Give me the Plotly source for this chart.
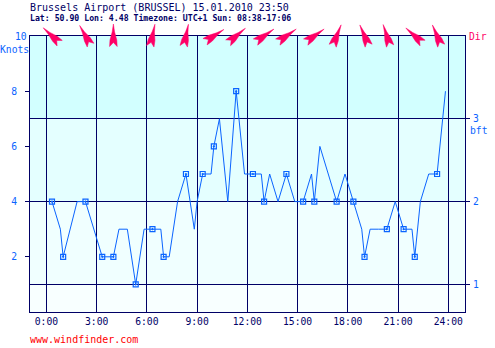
import math
import plotly.graph_objects as go

# ---------------- data ----------------
times = ["0:20", "0:50", "1:00", "1:50", "2:20", "2:50", "3:20", "4:00", "4:20", "4:50",
         "5:20", "5:50", "6:20", "6:50", "7:00", "7:20", "7:50", "8:20", "8:50", "9:00",
         "9:20", "9:50", "10:00", "10:20", "10:50", "11:20", "11:50", "12:20", "12:50", "13:00",
         "13:20", "13:50", "14:20", "14:50", "15:20", "15:50", "16:00", "16:20", "16:50", "17:20",
         "17:50", "18:20", "18:50", "19:00", "19:20", "19:50", "20:20", "20:50", "21:20", "21:50",
         "22:00", "22:20", "22:50", "23:20", "23:50"]
speeds_kn = [4, 3, 2, 4, 4, 3, 2, 2, 3, 3,
             1, 3, 3, 3, 2, 2, 4, 5, 3, 4,
             5, 5, 6, 7, 4, 8, 5, 5, 5, 4,
             5, 4, 5, 4, 4, 5, 4, 6, 5, 4,
             5, 4, 3, 2, 3, 3, 3, 4, 3, 3,
             2, 4, 5, 5, 8]
observed = [1, 0, 1, 0, 1, 0, 1, 1, 0, 0,
            1, 0, 1, 0, 1, 0, 0, 1, 0, 0,
            1, 0, 1, 0, 0, 1, 0, 1, 0, 1,
            0, 0, 1, 0, 1, 0, 1, 0, 0, 1,
            0, 1, 0, 1, 0, 0, 1, 0, 1, 0,
            1, 0, 0, 1, 0]

arrow_times = ["0:20", "2:20", "4:00", "6:20", "8:20", "10:00", "11:20", "13:00",
               "14:20", "16:00", "17:20", "19:00", "20:20", "22:00", "23:20"]
arrow_heading = [313, 331, 0, 12, 12, 57, 50, 55, 55, 55, 22, 337, 342, 312, 337]

x_ticks = [0, 3, 6, 9, 12, 15, 18, 21, 24]
x_tick_labels = ["0:00", "3:00", "6:00", "9:00", "12:00", "15:00", "18:00", "21:00", "24:00"]
knot_ticks = [2, 4, 6, 8]
bft_ticks_kn = [1, 4, 7]
bft_labels = ["1", "2", "3"]

title = "Brussels Airport (BRUSSEL) 15.01.2010 23:50"
subtitle = "Lat: 50.90 Lon: 4.48 Timezone: UTC+1 Sun: 08:38-17:06"

# ---------------- styles ----------------
NAVY = "#000066"
BLUE = "#0a64ff"
PINK = "#ff0066"
FONT = "DejaVu Sans Mono"


def to_hours(s):
    h, m = s.split(":")
    return int(h) + int(m) / 60.0


x_hours = [to_hours(t) for t in times]

fig = go.Figure()

fig.add_trace(go.Scatter(
    x=x_hours, y=speeds_kn, mode="lines",
    line=dict(color=BLUE, width=1), showlegend=False, hoverinfo="skip"))
fig.add_trace(go.Scatter(
    x=[x for x, o in zip(x_hours, observed) if o],
    y=[v for v, o in zip(speeds_kn, observed) if o],
    mode="markers", yaxis="y2",
    marker=dict(symbol="square-open-dot", size=5, color=BLUE, line=dict(width=1.2, color=BLUE)),
    showlegend=False, hoverinfo="skip"))

shapes = []
# background bands (bft zones)
bands = [(0, 1, "#f8ffff"), (1, 4, "#f0ffff"), (4, 7, "#e4ffff"), (7, 10, "#d2ffff")]
for y0, y1, c in bands:
    shapes.append(dict(type="rect", xref="paper", yref="y", x0=0, x1=1, y0=y0, y1=y1,
                       fillcolor=c, line=dict(width=0), layer="below"))

# wind direction darts
dart = [(0, 12), (1.2, 4), (3.4, -4), (3.8, -10.5), (0, -6.5), (-3.8, -10.5), (-3.4, -4), (-1.2, 4)]
for t, hd in zip(arrow_times, arrow_heading):
    a = math.radians(hd)
    pts = []
    for px, py in dart:
        rx = px * math.cos(a) + py * math.sin(a)
        ry = -px * math.sin(a) + py * math.cos(a)
        pts.append((rx, ry))
    path = "M" + " L".join(f"{x:.2f},{y:.2f}" for x, y in pts) + " Z"
    shapes.append(dict(type="path", xref="x", yref="paper", xsizemode="pixel", ysizemode="pixel",
                       xanchor=to_hours(t), yanchor=1, path=path,
                       fillcolor=PINK, line=dict(color=PINK, width=0.5), layer="above"))

annotations = [
    dict(text=title, x=0, y=1.104, xanchor="left", yanchor="middle", xshift=-1,
         font=dict(family=FONT, size=10, color=NAVY)),
    dict(text="<b>" + subtitle + "</b>", x=0, y=1.066, xanchor="left", yanchor="middle", xshift=-1,
         font=dict(family=FONT, size=8.2, color=NAVY)),
    dict(text="10", x=0, y=1.0, xanchor="right", yanchor="middle", xshift=-2,
         font=dict(family=FONT, size=9.7, color=BLUE)),
    dict(text="Knots", x=0, y=0.951, xanchor="right", yanchor="middle", xshift=0,
         font=dict(family=FONT, size=9.7, color=BLUE)),
    dict(text="Dir", x=1, y=0.998, xanchor="left", yanchor="middle", xshift=3,
         font=dict(family=FONT, size=9.7, color=PINK)),
    dict(text="bft", x=1, y=0.658, xanchor="left", yanchor="middle", xshift=4,
         font=dict(family=FONT, size=9.7, color=BLUE)),
    dict(text="www.windfinder.com", x=0, y=-0.101, xanchor="left", yanchor="middle", xshift=-1,
         font=dict(family=FONT, size=10, color="#ff0000")),
]
for an in annotations:
    an.update(xref="paper", yref="paper", showarrow=False, borderpad=0)

fig.update_layout(
    width=495, height=348,
    margin=dict(l=30, r=30, t=36, b=36, autoexpand=False),
    paper_bgcolor="white", plot_bgcolor="white",
    shapes=shapes, annotations=annotations,
    font=dict(family=FONT),
    xaxis=dict(range=[-0.98, 25.0], tickvals=x_ticks, ticktext=x_tick_labels,
               showgrid=True, gridcolor=NAVY, gridwidth=1, zeroline=False,
               showline=True, linecolor=NAVY, linewidth=1, mirror=True, ticks="",
               automargin=False,
               tickfont=dict(family=FONT, size=9.7, color=NAVY), fixedrange=True),
    yaxis=dict(range=[0, 10], tickvals=knot_ticks, showgrid=False, zeroline=False,
               showline=True, linecolor=NAVY, linewidth=1, mirror=True,
               ticks="outside", ticklen=4, tickcolor=NAVY, tickwidth=1,
               ticklabelstandoff=6, automargin=False,
               tickfont=dict(family=FONT, size=9.7, color=BLUE), fixedrange=True),
    yaxis2=dict(range=[0, 10], overlaying="y", side="right", tickvals=bft_ticks_kn,
                ticktext=bft_labels, showgrid=True, gridcolor=NAVY, gridwidth=1,
                zeroline=False, showline=False, ticks="outside", ticklen=4,
                tickcolor=NAVY, tickwidth=1, ticklabelstandoff=1, automargin=False,
                tickfont=dict(family=FONT, size=9.7, color=BLUE), fixedrange=True),
)

fig.write_html("out.html", config={"displayModeBar": False},
               post_script="document.body.style.margin='0';document.body.style.overflow='hidden';")
